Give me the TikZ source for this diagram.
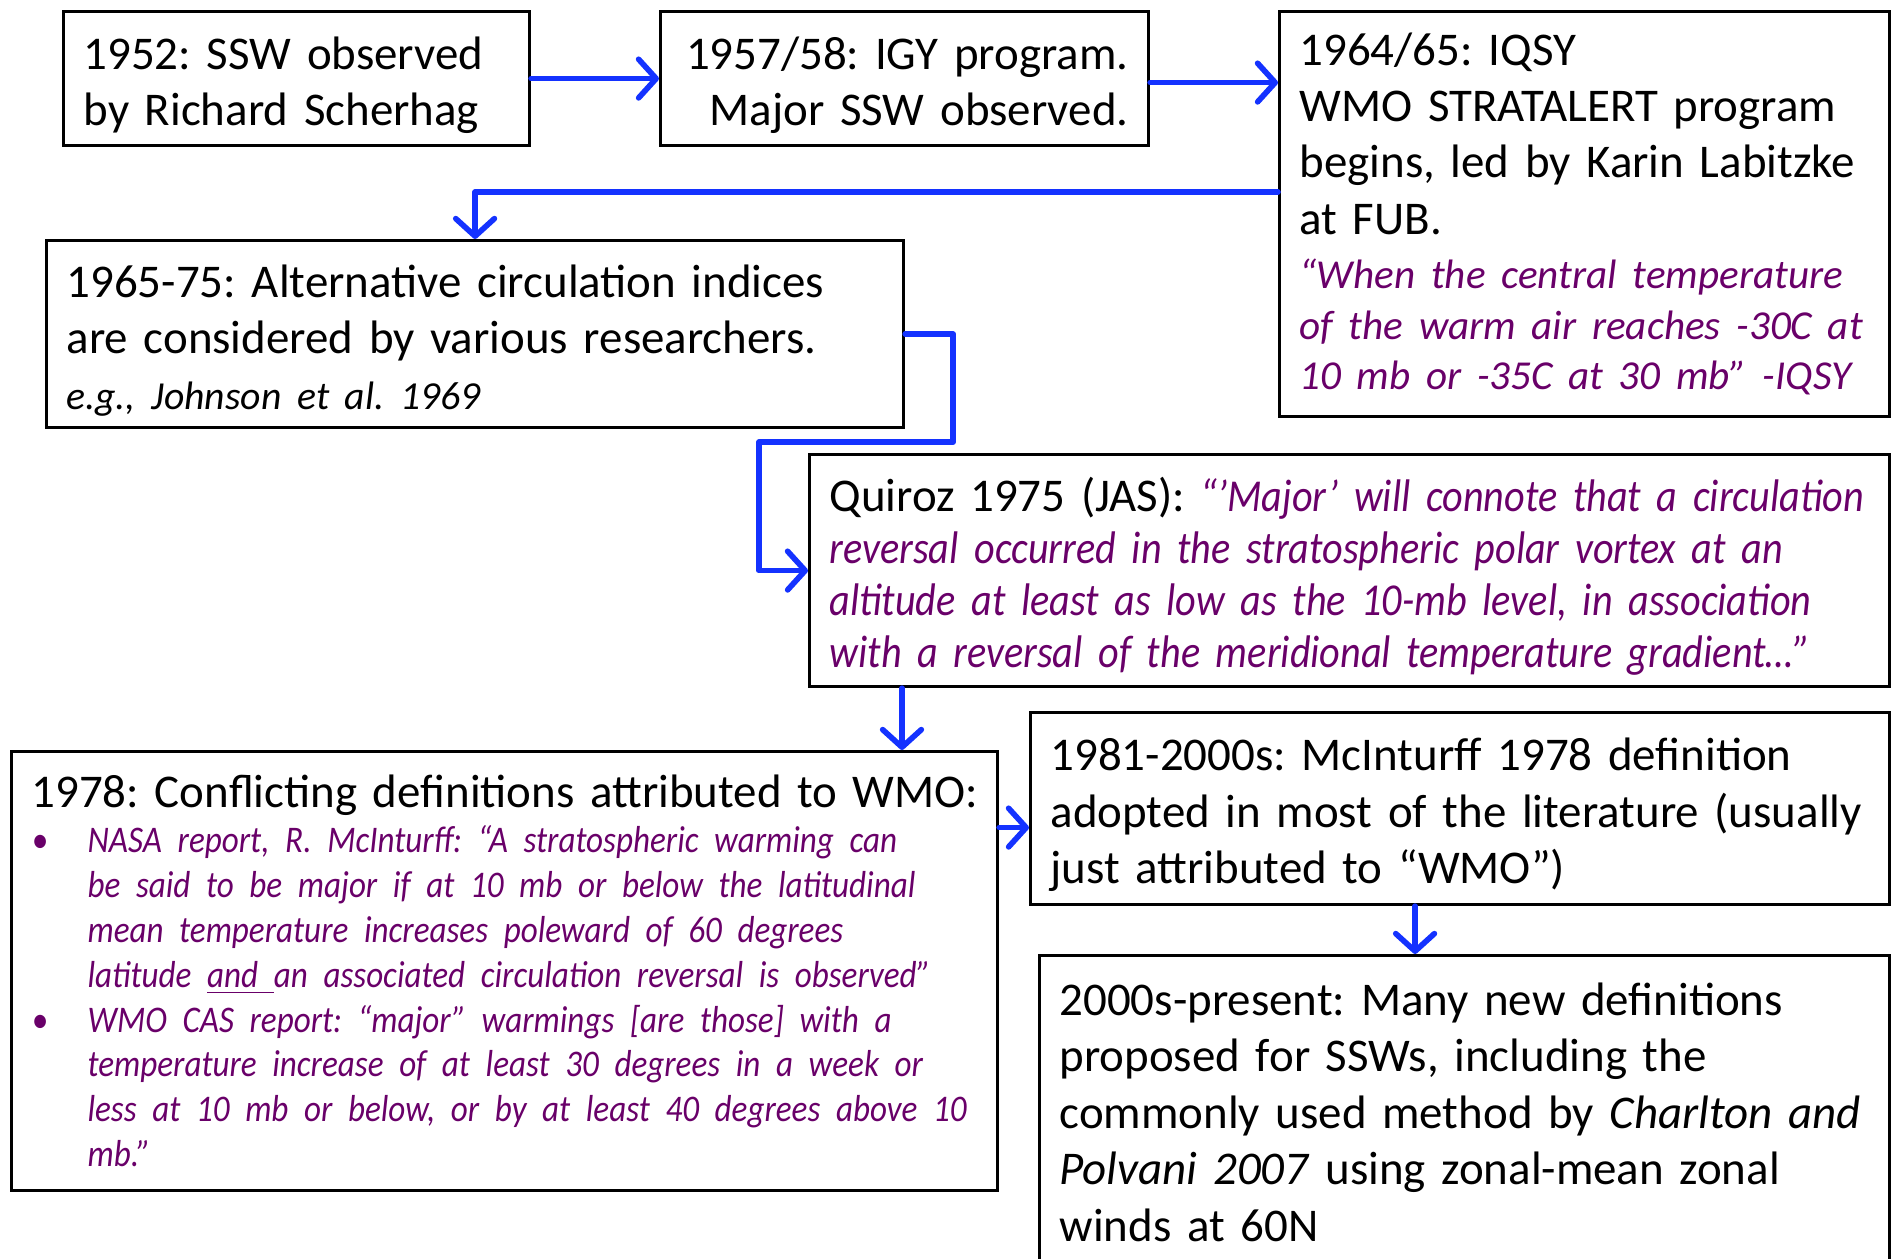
\documentclass[tikz,border=0pt]{standalone}
\usepackage{fontspec}
\setmainfont{Carlito}
\newfontfamily\quotefont[FakeStretch=0.88]{Carlito}
\usepackage{xcolor}
\usetikzlibrary{arrows.meta}

\definecolor{flowblue}{RGB}{20,50,255}
\definecolor{quotepurple}{RGB}{105,0,105}

\hyphenpenalty=10000
\exhyphenpenalty=10000

% bullet item with hanging indent
\newcommand{\defitem}{\par\hangindent=0.56cm\hangafter=1\noindent\makebox[0.56cm][l]{\textbullet}}

\tikzset{
  box/.style={draw, line width=0.9pt, anchor=north west, inner xsep=0.03cm, inner ysep=0pt,
    align=left, font=\fontsize{13.35}{15.9}\selectfont,
    execute at begin node={\leftskip=0.17cm\relax}},
  lowtext/.style={execute at begin node={\rule{0pt}{0.97em}}},
  flow/.style={draw=flowblue, line width=1.6pt, line cap=round, line join=round,
    -{Straight Barb[length=5pt,width=11pt,round]}},
}

\begin{document}
\frenchspacing
\begin{tikzpicture}
\useasboundingbox (0,0) rectangle (18.93,-12.59);
\clip (0,0) rectangle (18.93,-12.59);

% top row
\node[box, lowtext, text width=4.60cm, minimum height=1.34cm] (A) at (0.62,-0.10)
  {1952: SSW observed\\by Richard Scherhag};
\node[box, align=right, execute at begin node={\leftskip=0pt plus 1fil\rightskip=0.17cm\relax},
  lowtext, text width=4.82cm, minimum height=1.34cm] (B) at (6.59,-0.10)
  {1957/58: IGY program.\\Major SSW observed.};
\node[box, text width=6.04cm, minimum height=4.05cm] (C) at (12.78,-0.10)
  {{\fontsize{13.35}{16}\selectfont 1964/65: IQSY\\WMO STRATALERT program\\begins, led by Karin Labitzke\\at FUB.\par}
  \vspace{0.04cm}
  {\fontsize{11.7}{14.4}\selectfont\color{quotepurple}\itshape
  “When the central temperature\\of the warm air reaches -30C at\\10 mb or -35C at 30 mb” -IQSY\par}};

% middle
\node[box, lowtext, text width=8.51cm, minimum height=1.87cm] (D) at (0.45,-2.39)
  {1965-75: Alternative circulation indices\\are considered by various researchers.\par
  {\fontsize{11.3}{15.9}\selectfont\itshape e.g., Johnson et al. 1969\par}};
\node[box, lowtext, text width=10.74cm, minimum height=2.32cm] (E) at (8.08,-4.53)
  {Quiroz 1975 (JAS): {\fontsize{13}{14.8}\selectfont\quotefont\color{quotepurple}\itshape
  “’Major’ will connote that a circulation\\reversal occurred in the stratospheric polar vortex at an\\altitude at least as low as the 10-mb level, in association\\with a reversal of the meridional temperature gradient…”\par}};

% bottom
\node[box, text width=9.80cm, minimum height=4.39cm] (F) at (0.10,-7.50)
  {1978: Conflicting definitions attributed to WMO:\par
  {\fontsize{10.7}{12.75}\selectfont\quotefont\color{quotepurple}\itshape
  \defitem NASA report, R. McInturff: “A stratospheric warming can\newline be said to be major if at 10 mb or below the latitudinal\newline mean temperature increases poleward of 60 degrees\newline latitude \underline{and }an associated circulation reversal is observed”
  \defitem WMO CAS report: “major” warmings [are those] with a\newline temperature increase of at least 30 degrees in a week or\newline less at 10 mb or below, or by at least 40 degrees above 10\newline mb.”\par}};
\node[box, lowtext, text width=8.53cm, minimum height=1.92cm, font=\fontsize{13.35}{16.1}\selectfont] (G) at (10.29,-7.11)
  {1981-2000s: McInturff 1978 definition\\adopted in most of the literature (usually\\just attributed to “WMO”)};
\node[box, lowtext, text width=8.44cm, inner ysep=0.14cm, font=\fontsize{13.35}{16.1}\selectfont] (H) at (10.38,-9.54)
  {2000s-present: Many new definitions\\proposed for SSWs, including the\\commonly used method by \textit{Charlton and}\\\textit{Polvani 2007} using zonal-mean zonal\\winds at 60N\par
  \noindent\rule{0pt}{0.6cm}};

% connectors
\draw[flow] (A.east) -- (B.west);
\draw[flow] ([yshift=-0.04cm]B.east) -- ([yshift=-0.04cm]B.east -| C.west);
\draw[flow] ([yshift=0.22cm]C.west) -| (D.north);
\draw[flow] (D.east) -- ++(0.48,0) -- ++(0,-1.08) -| ([xshift=-0.49cm]E.west) -- (E.west);
\draw[flow] ([xshift=0.94cm]E.south west) -- ([xshift=0.94cm]E.south west |- F.north);
\draw[flow] ([yshift=-0.19cm]G.west -| F.east) -- ([yshift=-0.19cm]G.west);
\draw[flow] ([xshift=-0.45cm]G.south) -- ([xshift=-0.45cm]G.south |- H.north);
\end{tikzpicture}
\end{document}
